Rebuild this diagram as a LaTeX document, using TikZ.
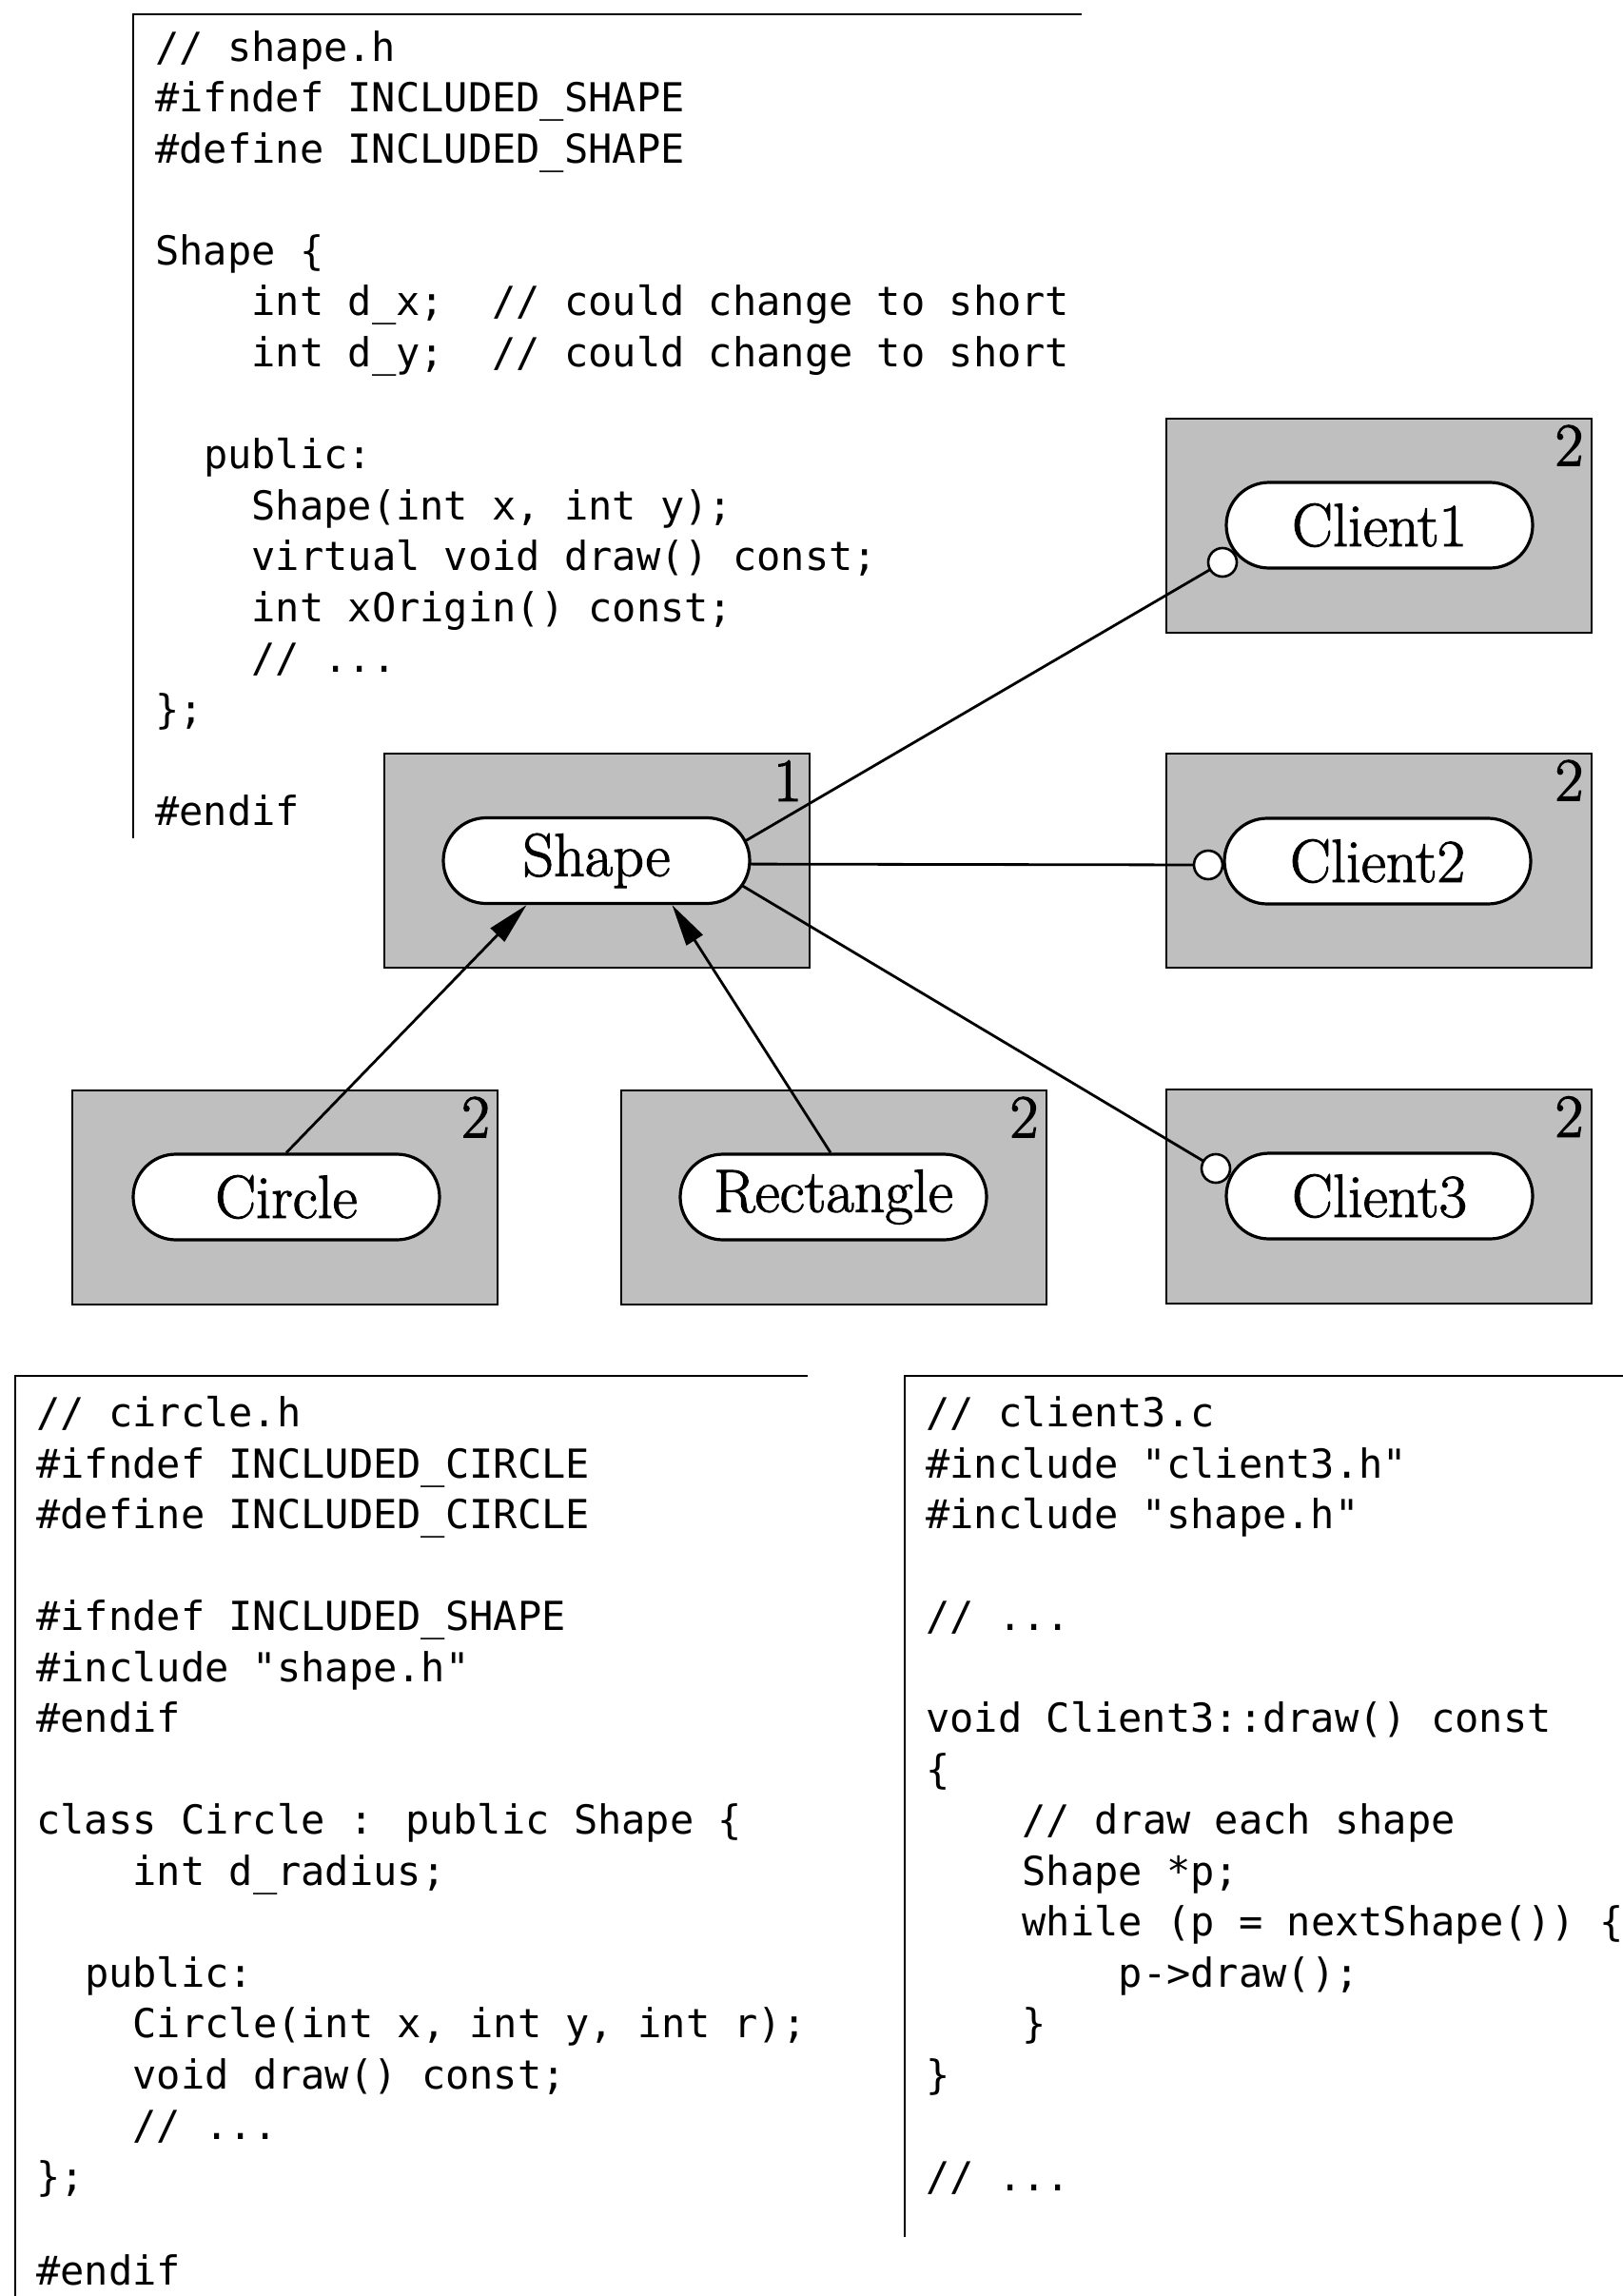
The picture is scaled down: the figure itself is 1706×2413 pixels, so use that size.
\documentclass[tikz,border=0pt]{standalone}
\usepackage{fontspec}
\newfontfamily\codefont{DejaVu Sans Mono}
\newfontfamily\labelfont{Latin Modern Roman}[FakeBold=1.6]
\newfontfamily\numfont{Latin Modern Roman}[FakeBold=2.2]
\usetikzlibrary{arrows.meta,calc}
\pgfdeclarelayer{bg}
\pgfsetlayers{bg,main}
\def\cw{25.3}
\def\lh{53.5}
\newcommand\dsl{//}
\newcommand\codeln[6]{\node[codetext] (#1) at ({#2+#5*\cw},{#3+#4*\lh}) {#6};}
\begin{document}
\begin{tikzpicture}[x=0.5pt,y=-0.5pt,
  codetext/.style={anchor=base west,inner sep=0pt,font=\codefont\fontsize{21}{25}\selectfont},
  graybox/.style={draw=black,line width=1pt,fill=black!25,minimum width=223.5pt,minimum height=112.5pt,inner sep=0pt},
  pill/.style={draw=black,line width=1.6pt,fill=white,rounded corners=22.5pt,minimum width=161pt,minimum height=45pt,inner sep=0pt,font=\labelfont\fontsize{32}{36}\selectfont},
  hole/.style={circle,draw=black,line width=1.3pt,fill=white,minimum size=15pt,inner sep=0pt},
  numlabel/.style={anchor=north east,inner sep=0pt,font=\numfont\fontsize{32}{36}\selectfont},
  conn/.style={line width=1.4pt},
  arr/.style={line width=1.4pt,-{Triangle[length=22pt,width=10pt]}},
  codeframe/.style={line width=1pt}]
\useasboundingbox (0,0) rectangle (1706,2413);
\begin{pgfonlayer}{bg}
  \fill[white] (0,0) rectangle (1706,2413);
  \node[graybox] (shapebox) at (627.5,904.5) {};
  \node[graybox] (c1box) at (1449,552) {};
  \node[graybox] (c2box) at (1449,904) {};
  \node[graybox] (c3box) at (1449,1257.5) {};
  \node[graybox] (circbox) at (299.5,1258) {};
  \node[graybox] (rectbox) at (876,1258) {};
\end{pgfonlayer}

% code frames
\draw[codeframe] (140,881) -- (140,15) -- (1137,15);
\draw[codeframe] (16,2413) -- (16,1446) -- (849,1446);
\draw[codeframe] (951,2351) -- (951,1446) -- (1706,1446);

% shape.h
\codeln{t0}{163}{64.5}{0}{0}{\dsl{} shape.h}
\codeln{t1}{163}{64.5}{1}{0}{\#ifndef INCLUDED\_SHAPE}
\codeln{t2}{163}{64.5}{2}{0}{\#define INCLUDED\_SHAPE}
\codeln{t4}{163}{64.5}{4}{0}{Shape \{}
\codeln{t5}{163}{64.5}{5}{4}{int d\_x;\ \ \dsl{} could change to short}
\codeln{t6}{163}{64.5}{6}{4}{int d\_y;\ \ \dsl{} could change to short}
\codeln{t8}{163}{64.5}{8}{2}{public:}
\codeln{t9}{163}{64.5}{9}{4}{Shape(int x, int y);}
\codeln{t10}{163}{64.5}{10}{4}{virtual void draw() const;}
\codeln{t11}{163}{64.5}{11}{4}{int xOrigin() const;}
\codeln{t12}{163}{64.5}{12}{4}{\dsl{} ...}
\codeln{t13}{163}{64.5}{13}{0}{\};}
\codeln{t15}{163}{64.5}{15}{0}{\#endif}

% circle.h
\codeln{l0}{38}{1499.5}{0}{0}{\dsl{} circle.h}
\codeln{l1}{38}{1499.5}{1}{0}{\#ifndef INCLUDED\_CIRCLE}
\codeln{l2}{38}{1499.5}{2}{0}{\#define INCLUDED\_CIRCLE}
\codeln{l4}{38}{1499.5}{4}{0}{\#ifndef INCLUDED\_SHAPE}
\codeln{l5}{38}{1499.5}{5}{0}{\#include "shape.h"}
\codeln{l6}{38}{1499.5}{6}{0}{\#endif}
\codeln{l8}{38}{1499.5}{8}{0}{class Circle : public Shape \{}
\codeln{l9}{38}{1499.5}{9}{4}{int d\_radius;}
\codeln{l11}{38}{1499.5}{11}{2}{public:}
\codeln{l12}{38}{1499.5}{12}{4}{Circle(int x, int y, int r);}
\codeln{l13}{38}{1499.5}{13}{4}{void draw() const;}
\codeln{l14}{38}{1499.5}{14}{4}{\dsl{} ...}
\codeln{l15}{38}{1499.5}{15}{0}{\};}
\codeln{l17}{38}{1499.5}{16.85}{0}{\#endif}

% client3.c
\codeln{r0}{973}{1499.5}{0}{0}{\dsl{} client3.c}
\codeln{r1}{973}{1499.5}{1}{0}{\#include "client3.h"}
\codeln{r2}{973}{1499.5}{2}{0}{\#include "shape.h"}
\codeln{r4}{973}{1499.5}{4}{0}{\dsl{} ...}
\codeln{r6}{973}{1499.5}{6}{0}{void Client3::draw() const}
\codeln{r7}{973}{1499.5}{7}{0}{\{}
\codeln{r8}{973}{1499.5}{8}{4}{\dsl{} draw each shape}
\codeln{r9}{973}{1499.5}{9}{4}{Shape *p;}
\codeln{r10}{973}{1499.5}{10}{4}{while (p = nextShape()) \{}
\codeln{r11}{973}{1499.5}{11}{8}{p->draw();}
\codeln{r12}{973}{1499.5}{12}{4}{\}}
\codeln{r13}{973}{1499.5}{13}{0}{\}}
\codeln{r15}{973}{1499.5}{15}{0}{\dsl{} ...}

% pills
\node[pill] (shape) at (627,904.5) {Shape};
\node[pill] (client1) at (1450,552) {Client1};
\node[pill] (client2) at (1448,905) {Client2};
\node[pill] (client3) at (1450,1257) {Client3};
\node[pill] (circle) at (301,1258) {Circle};
\node[pill] (rect) at (876,1258) {Rectangle};

% usage holes
\node[hole] (c1dot) at (1285,591) {};
\node[hole] (c2dot) at (1270,909) {};
\node[hole] (c3dot) at (1278,1228) {};

% level numbers
\node[numlabel] (n0) at ([xshift=-4.5pt,yshift=-4pt]shapebox.north east) {1};
\node[numlabel] (n1) at ([xshift=-4.5pt,yshift=-4pt]c1box.north east) {2};
\node[numlabel] (n2) at ([xshift=-4.5pt,yshift=-4pt]c2box.north east) {2};
\node[numlabel] (n3) at ([xshift=-4.5pt,yshift=-4pt]c3box.north east) {2};
\node[numlabel] (n4) at ([xshift=-4.5pt,yshift=-4pt]circbox.north east) {2};
\node[numlabel] (n5) at ([xshift=-4.5pt,yshift=-4pt]rectbox.north east) {2};

% uses connectors (behind pills)
\coordinate (hub) at (742,908);
\begin{pgfonlayer}{bg}
  \draw[conn] (hub) -- (c1dot.center);
  \draw[conn] (hub) -- (c2dot.center);
  \draw[conn] (hub) -- (c3dot.center);
\end{pgfonlayer}

% inheritance arrows
\draw[arr] (circle.north) -- ([xshift=-36.75pt]shape.south);
\draw[arr] ([xshift=-1.5pt]rect.north) -- ([xshift=39.75pt]shape.south);
\end{tikzpicture}
\end{document}
